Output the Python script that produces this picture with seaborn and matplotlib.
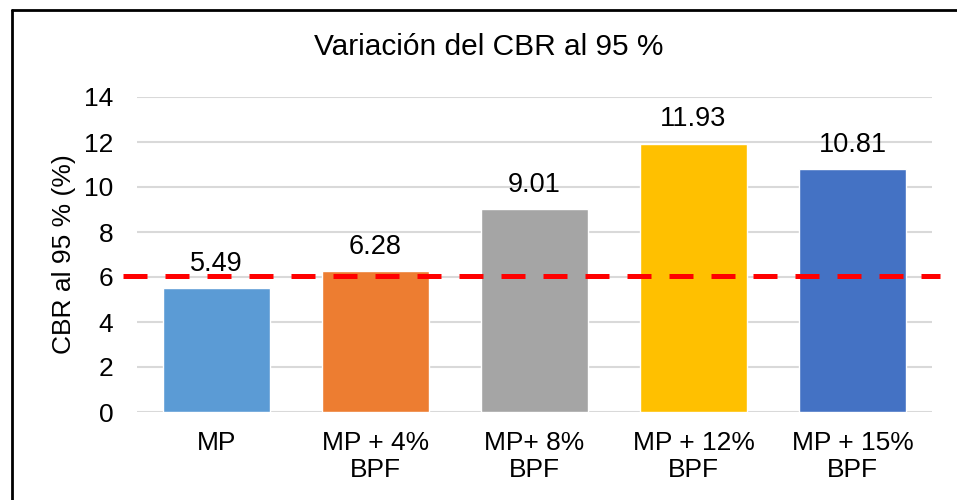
import matplotlib
matplotlib.use("Agg")
import matplotlib.pyplot as plt
import seaborn as sns
import pandas as pd
from matplotlib.lines import Line2D

categories = ["MP", "MP + 4%\nBPF", "MP+ 8%\nBPF", "MP + 12%\nBPF", "MP + 15%\nBPF"]
values = [5.49, 6.28, 9.01, 11.93, 10.81]
labels = ["5.49", "6.28", "9.01", "11.93", "10.81"]
colors = ["#5B9BD5", "#ED7D31", "#A5A5A5", "#FFC000", "#4472C4"]
reference_value = 6.05
yticks = [0, 2, 4, 6, 8, 10, 12, 14]

sns.set_style("white")
plt.rcParams["font.family"] = ["Liberation Sans", "DejaVu Sans"]
plt.rcParams["text.color"] = "black"
plt.rcParams["axes.labelcolor"] = "black"

df = pd.DataFrame({"cat": categories, "val": values})

fig = plt.figure(figsize=(9.57, 5.0), dpi=100)
ax = fig.add_axes([137/957, 88/500, 795/957, 315/500])

sns.barplot(data=df, x="cat", y="val", hue="cat", palette=colors, legend=False,
            width=0.67, ax=ax, saturation=1)

ax.set_ylim(0, 14)
ax.set_xlim(-0.5, len(categories) - 0.5)
ax.set_yticks(yticks)
ax.yaxis.grid(True, color="#D9D9D9", linewidth=1.5)
ax.set_axisbelow(True)
for s in ax.spines.values():
    s.set_visible(False)
ax.tick_params(axis="both", length=0, labelsize=19, colors="black")
ax.tick_params(axis="y", pad=17)
ax.tick_params(axis="x", pad=14)
for t in ax.get_xticklabels():
    t.set_linespacing(1.12)
ax.set_xlabel("")
ax.set_ylabel("CBR al 95 % (%)", fontsize=19, labelpad=6, color="black")

for i, (v, t) in enumerate(zip(values, labels)):
    ax.annotate(t, (i, v), xytext=(0, 8), textcoords="offset points",
                ha="center", va="bottom", fontsize=19.5, color="black")

ax.axhline(reference_value, xmin=-0.017, xmax=1.01, color="#FF0000", linewidth=3.6,
           linestyle=(0, (4.8, 3.6)), clip_on=False, zorder=5)

fig.text(0.5 + 10/957, 1 - 47/500, "Variación del CBR al 95 %", fontsize=21.5,
         ha="center", va="center", color="black")

# outer frame (left and top edges visible)
fig.add_artist(Line2D([12/957, 12/957], [0, 1 - 10/500], color="black", linewidth=2,
                      transform=fig.transFigure))
fig.add_artist(Line2D([12/957, 1], [1 - 10/500, 1 - 10/500], color="black", linewidth=2,
                      transform=fig.transFigure))

fig.savefig("out.png", dpi=100)
